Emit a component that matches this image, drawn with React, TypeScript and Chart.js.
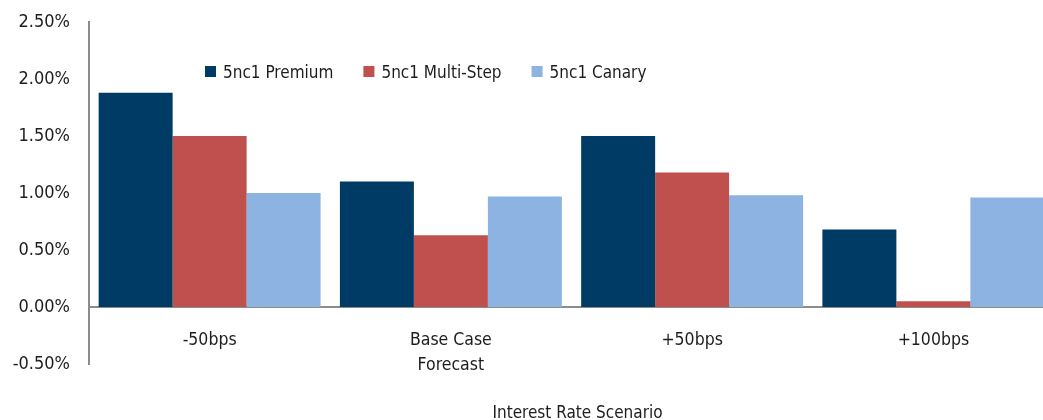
import { useEffect, useRef } from "react";
import { Chart, registerables } from "chart.js";

Chart.register(...registerables);

// Scenario categories (multi-line label as an array)
const scenarios: (string | string[])[] = ["-50bps", ["Base Case", "Forecast"], "+50bps", "+100bps"];

// Series values, in percent
const premium = [1.88, 1.1, 1.5, 0.68];
const multiStep = [1.5, 0.63, 1.18, 0.05];
const canary = [1.0, 0.97, 0.98, 0.96];

const seriesNames = ["5nc1 Premium", "5nc1 Multi-Step", "5nc1 Canary"];
const seriesColors = ["#003b66", "#c0504d", "#8db3e2"];

// Y-axis tick values, in percent
const yTicks = [-0.5, 0, 0.5, 1, 1.5, 2, 2.5];

const axisTitle = "Interest Rate Scenario";

const FONT = "'DejaVu Sans Condensed', 'Liberation Sans Narrow', 'Liberation Sans', Arial, sans-serif";
const TEXT = "#1f1c1d";
const AXIS = "#8c8c8c";
const TICK_SIZE = 18;
const LABEL_SIZE = 17.5;
const LEGEND_SIZE = 17;

const CANVAS_W = 1070;
const CANVAS_H = 420;

// Legend drawn inside the plot area in a single row, plus the x-axis title
const annotations = {
  id: "annotations",
  afterDraw(chart: any) {
    const { ctx, chartArea } = chart;
    ctx.save();
    ctx.font = `${LEGEND_SIZE}px ${FONT}`;
    ctx.textBaseline = "alphabetic";
    ctx.textAlign = "left";
    let x = chartArea.left + 116;
    chart.data.datasets.forEach((ds: any) => {
      ctx.fillStyle = ds.backgroundColor;
      ctx.fillRect(x, 66, 11, 11);
      x += 18;
      ctx.fillStyle = TEXT;
      ctx.fillText(ds.label, x, 77.5);
      x += ctx.measureText(ds.label).width + 30;
    });

    ctx.textAlign = "center";
    ctx.fillStyle = TEXT;
    ctx.fillText(axisTitle, (chartArea.left + chartArea.right) / 2 + 6, 418);
    ctx.restore();
  },
};

export default function App() {
  const canvasRef = useRef<HTMLCanvasElement | null>(null);

  useEffect(() => {
    if (!canvasRef.current) return;
    Chart.defaults.font.family = FONT;
    Chart.defaults.font.size = TICK_SIZE;
    Chart.defaults.color = TEXT;

    const values = [premium, multiStep, canary];
    const chart = new Chart(canvasRef.current, {
      type: "bar",
      data: {
        labels: scenarios,
        datasets: values.map((data, i) => ({
          label: seriesNames[i],
          data,
          backgroundColor: seriesColors[i],
          borderWidth: 0,
          categoryPercentage: 0.92,
          barPercentage: 1.0,
        })),
      },
      options: {
        responsive: false,
        animation: false,
        devicePixelRatio: 1,
        layout: { padding: { left: 0, right: CANVAS_W - 1054, top: 22, bottom: 56 } },
        plugins: {
          legend: { display: false },
          tooltip: { enabled: false },
        },
        scales: {
          x: {
            position: { y: 0 } as any,
            offset: true,
            grid: { display: false, drawTicks: false },
            border: { display: true, color: AXIS, width: 2 },
            ticks: {
              padding: 21,
              color: TEXT,
              font: { size: LABEL_SIZE, lineHeight: 25 / LABEL_SIZE },
              maxRotation: 0,
              autoSkip: false,
            },
          },
          y: {
            min: -0.5,
            max: 2.5,
            afterBuildTicks: (scale: any) => {
              scale.ticks = yTicks.map((value) => ({ value }));
            },
            afterFit: (scale: any) => {
              scale.width = 89;
              scale.paddingTop = 0;
              scale.paddingBottom = 0;
            },
            grid: { display: false, drawTicks: false },
            border: { display: true, color: AXIS, width: 2 },
            ticks: {
              padding: 19,
              color: TEXT,
              font: { size: TICK_SIZE },
              callback: (v: any) => Number(v).toFixed(2) + "%",
            },
          },
        },
      },
      plugins: [annotations],
    });
    return () => chart.destroy();
  }, []);

  return (
    <div
      style={{
        position: "fixed",
        left: 0,
        top: 0,
        width: 1043,
        height: CANVAS_H,
        overflow: "hidden",
        background: "#fff",
      }}
    >
      <canvas
        ref={canvasRef}
        width={CANVAS_W}
        height={CANVAS_H}
        style={{ display: "block", width: CANVAS_W, height: CANVAS_H }}
      />
    </div>
  );
}
